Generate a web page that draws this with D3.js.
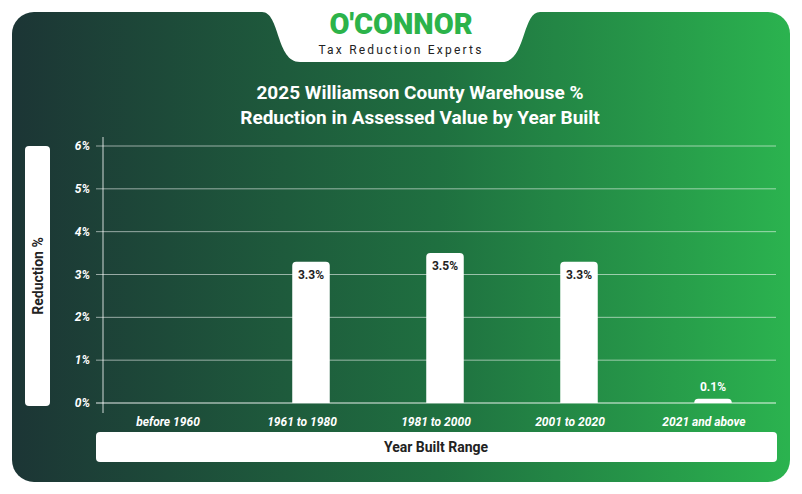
<!doctype html>
<html lang="en">
<head>
  <meta charset="UTF-8">
  <title>Williamson County Warehouse</title>
  <script src="https://cdn.jsdelivr.net/npm/d3@7"></script>
  <style>
    body { margin: 0; background: #fff; }
    svg { display: block; font-family: Roboto, "Open Sans", sans-serif; }
  </style>
</head>
<body>
  <svg width="802" height="494"></svg>
  <script>
    const categories = ["before 1960", "1961 to 1980", "1981 to 2000", "2001 to 2020", "2021 and above"]
    const values = [null, 3.3, 3.5, 3.3, 0.1]
    const yTicks = [0, 1, 2, 3, 4, 5, 6]

    const svg = d3.select("svg")
    const defs = svg.append("defs")
    const grad = defs.append("linearGradient").attr("id", "bg")
    grad.append("stop").attr("offset", "0%").attr("stop-color", "#1c3535")
    grad.append("stop").attr("offset", "55%").attr("stop-color", "#1f7040")
    grad.append("stop").attr("offset", "100%").attr("stop-color", "#2bb34f")

    svg.append("rect").attr("x", 12).attr("y", 12).attr("width", 778).attr("height", 470)
      .attr("rx", 22).attr("fill", "url(#bg)")

    // logo tab
    svg.append("path")
      .attr("d", "M262,12 C280,12 276,62 300,62 L502,62 C526,62 522,12 540,12 Z")
      .attr("fill", "#fff")
    svg.append("text").attr("x", 401).attr("y", 34).attr("text-anchor", "middle")
      .attr("font-size", 29).attr("font-weight", 900).attr("fill", "#2cb34a")
      .attr("font-family", "Roboto, sans-serif").text("O'CONNOR")
    svg.append("text").attr("x", 401).attr("y", 54).attr("text-anchor", "middle")
      .attr("font-size", 12).attr("letter-spacing", 2.2).attr("fill", "#222").text("Tax Reduction Experts")

    svg.append("text").attr("x", 420).attr("y", 99).attr("text-anchor", "middle")
      .attr("font-size", 19).attr("font-weight", 700).attr("fill", "#fff")
      .text("2025 Williamson County Warehouse %")
    svg.append("text").attr("x", 420).attr("y", 124).attr("text-anchor", "middle")
      .attr("font-size", 19).attr("font-weight", 700).attr("fill", "#fff")
      .text("Reduction in Assessed Value by Year Built")

    const x = d3.scaleBand().domain(categories).range([110, 780]).paddingInner(0.72).paddingOuter(0.36)
    const y = d3.scaleLinear().domain([0, 6]).range([403, 146])

    // grid
    svg.append("g").selectAll("line").data(yTicks).join("line")
      .attr("x1", 96).attr("x2", 776).attr("y1", d => y(d)).attr("y2", d => y(d))
      .attr("stroke", "#fff").attr("stroke-opacity", d => d === 0 ? 0.9 : 0.55)
    svg.append("line").attr("x1", 103).attr("x2", 103).attr("y1", 137).attr("y2", 413)
      .attr("stroke", "#fff").attr("stroke-opacity", 0.8)

    svg.append("g").selectAll("text").data(yTicks).join("text")
      .attr("x", 90).attr("y", d => y(d) + 4).attr("text-anchor", "end")
      .attr("font-size", 12).attr("font-weight", 700).attr("font-style", "italic").attr("fill", "#fff")
      .text(d => d + "%")

    const data = categories.map((c, i) => ({ c, v: values[i] })).filter(d => d.v != null)
    svg.append("g").selectAll("path").data(data).join("path")
      .attr("fill", "#fff")
      .attr("d", d => {
        const x0 = x(d.c), w = x.bandwidth(), y0 = y(d.v), y1 = y(0), r = Math.min(4, (y1 - y0))
        return `M${x0},${y1} L${x0},${y0 + r} Q${x0},${y0} ${x0 + r},${y0} L${x0 + w - r},${y0} Q${x0 + w},${y0} ${x0 + w},${y0 + r} L${x0 + w},${y1} Z`
      })
    svg.append("g").selectAll("text").data(data).join("text")
      .attr("x", d => x(d.c) + x.bandwidth() / 2)
      .attr("y", d => d.v < 0.5 ? y(d.v) - 8 : y(d.v) + 17)
      .attr("text-anchor", "middle").attr("font-size", 12).attr("font-weight", 700)
      .attr("fill", d => d.v < 0.5 ? "#fff" : "#222")
      .text(d => d.v.toFixed(1) + "%")

    svg.append("g").selectAll("text").data(categories).join("text")
      .attr("x", d => x(d) + x.bandwidth() / 2 - 9).attr("y", 426).attr("text-anchor", "middle")
      .attr("font-size", 12).attr("font-weight", 700).attr("font-style", "italic").attr("fill", "#fff")
      .text(d => d)

    // axis title boxes
    svg.append("rect").attr("x", 25).attr("y", 146).attr("width", 25).attr("height", 260).attr("rx", 4).attr("fill", "#fff")
    svg.append("text").attr("transform", "translate(43,276) rotate(-90)").attr("text-anchor", "middle")
      .attr("font-size", 14).attr("font-weight", 700).attr("fill", "#222").text("Reduction %")
    svg.append("rect").attr("x", 96).attr("y", 432).attr("width", 681).attr("height", 30).attr("rx", 4).attr("fill", "#fff")
    svg.append("text").attr("x", 436).attr("y", 452).attr("text-anchor", "middle")
      .attr("font-size", 14).attr("font-weight", 700).attr("fill", "#222").text("Year Built Range")
  </script>
</body>
</html>
